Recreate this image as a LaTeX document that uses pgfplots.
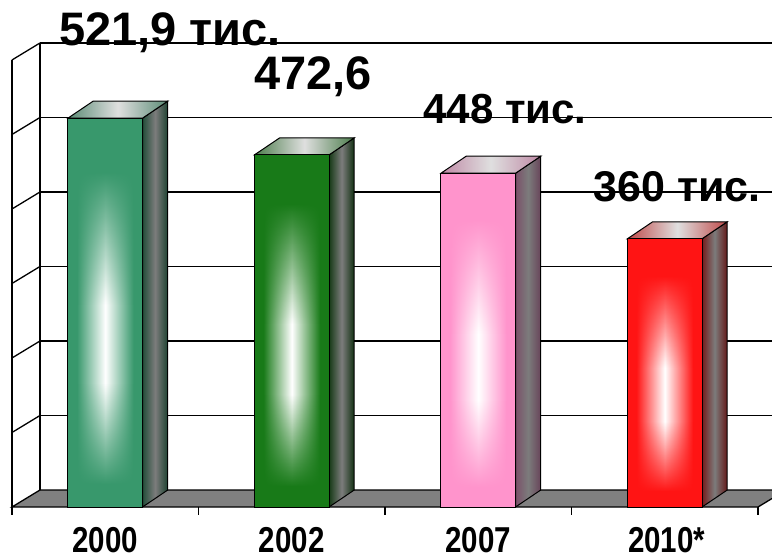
\documentclass[border=0pt]{standalone}
\usepackage{pgfplots}
\pgfplotsset{compat=1.18}
\usepackage{fontspec}
\setmainfont{Liberation Sans}
\newfontfamily\narrowfont[FakeStretch=0.82]{Liberation Sans}
\usetikzlibrary{fadings}
\definecolor{cA}{RGB}{56,152,108}
\definecolor{cB}{RGB}{24,122,24}
\definecolor{cC}{RGB}{255,148,204}
\definecolor{cD}{RGB}{255,20,20}
\definecolor{sA}{RGB}{36,78,58}
\definecolor{sB}{RGB}{22,58,22}
\definecolor{sC}{RGB}{122,80,105}
\definecolor{sD}{RGB}{118,28,28}
\definecolor{sideMid}{RGB}{124,124,124}
\definecolor{floorgray}{RGB}{128,128,128}
\pgfdeclarehorizontalshading{hA}{100bp}{color(0bp)=(cA); color(31bp)=(cA); color(50bp)=(white); color(69bp)=(cA); color(100bp)=(cA)}
\pgfdeclarehorizontalshading{hB}{100bp}{color(0bp)=(cB); color(31bp)=(cB); color(50bp)=(white); color(69bp)=(cB); color(100bp)=(cB)}
\pgfdeclarehorizontalshading{hC}{100bp}{color(0bp)=(cC); color(31bp)=(cC); color(50bp)=(white); color(69bp)=(cC); color(100bp)=(cC)}
\pgfdeclarehorizontalshading{hD}{100bp}{color(0bp)=(cD); color(31bp)=(cD); color(50bp)=(white); color(69bp)=(cD); color(100bp)=(cD)}
\pgfdeclareverticalshading{vfadeshade}{100bp}{color(0bp)=(white); color(28bp)=(white); color(41bp)=(black); color(51bp)=(black); color(68bp)=(white); color(100bp)=(white)}
\tikzfading[name=barfade, shading=vfadeshade]
\begin{document}
\begin{tikzpicture}
\begin{axis}[
  width=772pt, height=559pt, scale only axis,
  axis lines=none, xtick=\empty, ytick=\empty,
  xmin=-0.0643, xmax=4.075, ymin=-69.8, ymax=680.5,
  clip=true,
]
% back wall gridlines
\addplot[black, line width=1.3pt] coordinates {(0.15,122.8) (4.2,122.8)};
\addplot[black, line width=1.3pt] coordinates {(0.15,222.8) (4.2,222.8)};
\addplot[black, line width=1.3pt] coordinates {(0.15,322.8) (4.2,322.8)};
\addplot[black, line width=1.3pt] coordinates {(0.15,422.8) (4.2,422.8)};
\addplot[black, line width=1.3pt] coordinates {(0.15,522.8) (4.2,522.8)};
\addplot[black, line width=1.3pt] coordinates {(0.15,622.8) (4.2,622.8)};
% left wall
\addplot[black, line width=1.3pt] coordinates {(0,0) (0,600)};
\addplot[black, line width=1.3pt] coordinates {(0.15,22.8) (0.15,622.8)};
\addplot[black, line width=1.3pt] coordinates {(0,100) (0.15,122.8)};
\addplot[black, line width=1.3pt] coordinates {(0,200) (0.15,222.8)};
\addplot[black, line width=1.3pt] coordinates {(0,300) (0.15,322.8)};
\addplot[black, line width=1.3pt] coordinates {(0,400) (0.15,422.8)};
\addplot[black, line width=1.3pt] coordinates {(0,500) (0.15,522.8)};
\addplot[black, line width=1.3pt] coordinates {(0,600) (0.15,622.8)};
% floor
\addplot[fill=floorgray, draw=black, line width=1.3pt] coordinates {(0,0) (4,0) (4.15,22.8) (0.15,22.8)} --cycle;
% ticks
\addplot[black, line width=1.3pt] coordinates {(0,0) (0,-11)};
\addplot[black, line width=1.3pt] coordinates {(1,0) (1,-11)};
\addplot[black, line width=1.3pt] coordinates {(2,0) (2,-11)};
\addplot[black, line width=1.3pt] coordinates {(3,0) (3,-11)};
\addplot[black, line width=1.3pt] coordinates {(4,0) (4,-11)};

% ---- bar 2000: 521.9
\addplot[shade, draw=black, line width=1pt, left color=sA, right color=sA!85!black, middle color=sideMid] coordinates {(0.7,0) (0.835,22.8) (0.835,544.7) (0.7,521.9)} --cycle;
\addplot[shade, draw=black, line width=1pt, left color=cA!50!gray, right color=cA!50!gray, middle color=gray!25!white] coordinates {(0.3,521.9) (0.7,521.9) (0.835,544.7) (0.435,544.7)} --cycle;
\addplot[draw=none, shading=hA] coordinates {(0.3,0) (0.7,0) (0.7,521.9) (0.3,521.9)} --cycle;
\addplot[draw=none, fill=cA, path fading=barfade] coordinates {(0.3,0) (0.7,0) (0.7,521.9) (0.3,521.9)} --cycle;
\addplot[draw=black, line width=1pt] coordinates {(0.3,0) (0.7,0) (0.7,521.9) (0.3,521.9)} --cycle;

% ---- bar 2002: 472.6
\addplot[shade, draw=black, line width=1pt, left color=sB, right color=sB!85!black, middle color=sideMid] coordinates {(1.7,0) (1.835,22.8) (1.835,495.4) (1.7,472.6)} --cycle;
\addplot[shade, draw=black, line width=1pt, left color=cB!50!gray, right color=cB!50!gray, middle color=gray!25!white] coordinates {(1.3,472.6) (1.7,472.6) (1.835,495.4) (1.435,495.4)} --cycle;
\addplot[draw=none, shading=hB] coordinates {(1.3,0) (1.7,0) (1.7,472.6) (1.3,472.6)} --cycle;
\addplot[draw=none, fill=cB, path fading=barfade] coordinates {(1.3,0) (1.7,0) (1.7,472.6) (1.3,472.6)} --cycle;
\addplot[draw=black, line width=1pt] coordinates {(1.3,0) (1.7,0) (1.7,472.6) (1.3,472.6)} --cycle;

% ---- bar 2007: 448
\addplot[shade, draw=black, line width=1pt, left color=sC, right color=sC!85!black, middle color=sideMid] coordinates {(2.7,0) (2.835,22.8) (2.835,470.8) (2.7,448)} --cycle;
\addplot[shade, draw=black, line width=1pt, left color=cC!50!gray, right color=cC!50!gray, middle color=gray!25!white] coordinates {(2.3,448) (2.7,448) (2.835,470.8) (2.435,470.8)} --cycle;
\addplot[draw=none, shading=hC] coordinates {(2.3,0) (2.7,0) (2.7,448) (2.3,448)} --cycle;
\addplot[draw=none, fill=cC, path fading=barfade] coordinates {(2.3,0) (2.7,0) (2.7,448) (2.3,448)} --cycle;
\addplot[draw=black, line width=1pt] coordinates {(2.3,0) (2.7,0) (2.7,448) (2.3,448)} --cycle;

% ---- bar 2010*: 360
\addplot[shade, draw=black, line width=1pt, left color=sD, right color=sD!85!black, middle color=sideMid] coordinates {(3.7,0) (3.835,22.8) (3.835,382.8) (3.7,360)} --cycle;
\addplot[shade, draw=black, line width=1pt, left color=cD!50!gray, right color=cD!50!gray, middle color=gray!25!white] coordinates {(3.3,360) (3.7,360) (3.835,382.8) (3.435,382.8)} --cycle;
\addplot[draw=none, shading=hD] coordinates {(3.3,0) (3.7,0) (3.7,360) (3.3,360)} --cycle;
\addplot[draw=none, fill=cD, path fading=barfade] coordinates {(3.3,0) (3.7,0) (3.7,360) (3.3,360)} --cycle;
\addplot[draw=black, line width=1pt] coordinates {(3.3,0) (3.7,0) (3.7,360) (3.3,360)} --cycle;

% data labels
\node[anchor=base, inner sep=0pt, font=\fontsize{47}{50}\selectfont\bfseries] at (axis cs:0.847,620) {521,9 тис.};
\node[anchor=base, inner sep=0pt, font=\fontsize{47}{50}\selectfont\bfseries] at (axis cs:1.614,559.7) {472,6};
\node[anchor=base, inner sep=0pt, font=\fontsize{42}{50}\selectfont\bfseries] at (axis cs:2.643,515.4) {448 тис.};
\node[anchor=base, inner sep=0pt, font=\fontsize{43}{50}\selectfont\bfseries] at (axis cs:3.566,409.4) {360 тис.};
% category labels
\node[anchor=base, inner sep=0pt, font=\fontsize{36}{40}\selectfont\narrowfont\bfseries] at (axis cs:0.5,-61.7) {2000};
\node[anchor=base, inner sep=0pt, font=\fontsize{36}{40}\selectfont\narrowfont\bfseries] at (axis cs:1.5,-61.7) {2002};
\node[anchor=base, inner sep=0pt, font=\fontsize{36}{40}\selectfont\narrowfont\bfseries] at (axis cs:2.5,-61.7) {2007};
\node[anchor=base, inner sep=0pt, font=\fontsize{36}{40}\selectfont\narrowfont\bfseries] at (axis cs:3.51,-61.7) {2010*};
\end{axis}
\pgfresetboundingbox
\path (current axis.south west) rectangle (current axis.north east);
\end{tikzpicture}
\end{document}
